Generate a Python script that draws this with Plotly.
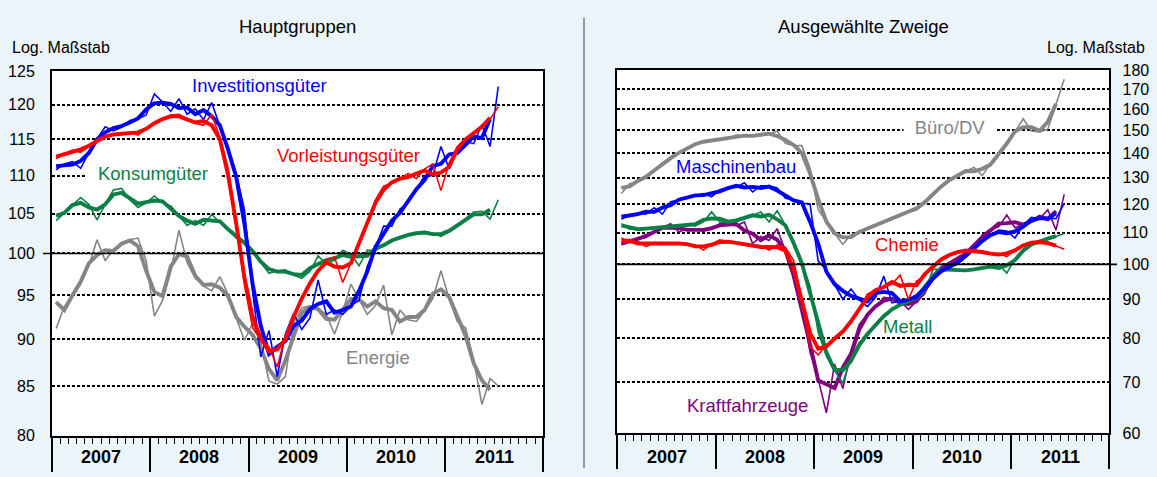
import math
import plotly.graph_objects as go

W, H = 1157, 477
FONT = "Arial, 'Liberation Sans', sans-serif"

# ---------------- categories ----------------
MONTHS = [f"{2007 + k // 12}-{k % 12 + 1:02d}" for k in range(55)]  # Jan 2007 .. Jul 2011
YEARS = ["2007", "2008", "2009", "2010", "2011"]
LEFT_TICKS = [80, 85, 90, 95, 100, 105, 110, 115, 120, 125]
RIGHT_TICKS = [60, 70, 80, 90, 100, 110, 120, 130, 140, 150, 160, 170, 180]

# ---------------- Hauptgruppen (monthly values and 3-month averages) ----------------
INV_M = [110.8, 111.6, 111.9, 111.0, 113.1, 115.1, 116.8, 116.2, 116.7, 117.7,
         117.9, 118.5, 121.6, 120.4, 119.0, 120.9, 118.6, 119.4, 117.8, 120.3,
         116.9, 113.7, 110.3, 105.5, 95.4, 88.1, 91.0, 86.0, 90.6, 92.9,
         91.1, 92.4, 96.8, 92.8, 93.3, 92.8, 93.8, 94.4, 98.4, 100.7,
         103.4, 103.4, 105.6, 106.4, 108.1, 110.0, 110.0, 114.0, 110.9, 113.8,
         114.7, 114.4, 117.1, 114.0, 122.7]
INV_T = [111.3, 111.4, 111.5, 112.0, 113.1, 115.0, 116.0, 116.6, 116.9, 117.4,
         118.0, 119.3, 120.2, 120.3, 120.1, 119.5, 119.6, 118.6, 119.2, 118.3,
         117.0, 113.6, 109.8, 103.7, 96.3, 91.5, 88.4, 89.2, 89.8, 91.5,
         92.1, 93.4, 94.0, 94.3, 93.0, 93.3, 93.7, 95.5, 97.8, 100.8,
         102.5, 104.1, 105.1, 106.7, 108.2, 109.4, 111.3, 111.6, 112.9, 113.1,
         114.3, 115.4, 115.2, 117.9]

VOR_M = [112.3, 113.0, 113.5, 113.2, 114.0, 115.0, 115.5, 115.7, 115.8, 116.0,
         115.6, 116.5, 117.4, 117.9, 118.5, 118.6, 117.9, 117.3, 117.0, 118.6,
         115.3, 111.1, 103.9, 96.2, 91.3, 89.9, 89.2, 87.0, 90.4, 92.6,
         94.6, 96.5, 98.0, 99.2, 99.6, 96.5, 98.8, 101.1, 103.9, 106.8,
         108.6, 109.0, 109.6, 110.3, 109.6, 110.9, 111.6, 108.0, 111.7, 114.0,
         115.1, 115.8, 116.7, 117.9, 119.7]
VOR_T = [112.6, 112.9, 113.2, 113.6, 114.1, 114.8, 115.4, 115.7, 115.8, 115.8,
         116.0, 116.5, 117.3, 117.9, 118.3, 118.3, 117.9, 117.4, 117.6, 117.0,
         115.0, 110.1, 103.7, 97.1, 92.5, 90.1, 88.7, 88.9, 90.0, 92.5,
         94.6, 96.4, 97.9, 98.9, 98.4, 98.3, 98.8, 101.3, 103.9, 106.4,
         108.1, 109.1, 109.6, 109.8, 110.3, 110.7, 110.2, 110.4, 111.2, 113.6,
         115.0, 115.9, 116.8, 118.1]

KON_M = [104.1, 105.1, 106.0, 107.1, 106.2, 104.2, 106.2, 108.1, 108.3, 106.8,
         105.8, 106.4, 107.3, 106.4, 106.0, 104.7, 103.5, 104.1, 103.5, 104.9,
         103.9, 103.1, 101.9, 101.5, 100.4, 98.9, 97.6, 97.9, 98.0, 97.4,
         97.0, 97.8, 99.7, 98.7, 99.2, 100.4, 99.9, 98.5, 100.4, 100.3,
         101.1, 101.7, 102.1, 102.3, 102.5, 102.7, 102.5, 102.1, 102.7, 103.5,
         104.3, 105.2, 105.3, 104.3, 106.8]
KON_T = [104.7, 105.1, 106.1, 106.4, 105.8, 105.5, 106.2, 107.5, 107.7, 107.0,
         106.3, 106.5, 106.7, 106.6, 105.7, 104.7, 104.1, 103.7, 104.2, 104.1,
         104.0, 103.0, 102.2, 101.3, 100.3, 99.0, 98.1, 97.8, 97.8, 97.5,
         97.4, 98.2, 98.7, 99.2, 99.4, 99.8, 99.6, 99.6, 99.7, 100.6,
         101.0, 101.6, 102.0, 102.3, 102.5, 102.6, 102.4, 102.4, 102.8, 103.5,
         104.3, 104.9, 104.9, 105.5]

ENE_M = [91.2, 93.7, 94.9, 96.3, 98.5, 101.7, 99.1, 100.5, 101.3, 101.7,
         101.9, 99.1, 92.6, 94.4, 97.8, 102.9, 98.9, 97.0, 96.1, 95.5,
         97.2, 95.1, 92.4, 89.9, 91.8, 89.7, 85.5, 85.2, 86.0, 91.8,
         93.5, 93.8, 93.5, 92.8, 90.6, 93.1, 96.3, 94.5, 92.8, 93.8,
         96.2, 90.5, 93.3, 92.2, 92.0, 93.2, 94.6, 97.9, 94.6, 92.0,
         91.3, 87.8, 83.1, 85.8, 85.0]
ENE_T = [94.2, 93.3, 95.0, 96.6, 98.8, 99.8, 100.4, 100.3, 101.2, 101.6,
         100.9, 97.9, 95.4, 94.9, 98.4, 99.9, 99.6, 97.3, 96.2, 96.3,
         95.9, 94.9, 92.5, 91.4, 90.5, 89.0, 86.8, 85.6, 87.7, 90.4,
         93.0, 93.6, 93.4, 92.3, 92.2, 93.3, 94.6, 94.5, 93.7, 94.3,
         93.5, 93.3, 92.0, 92.5, 92.5, 93.3, 95.2, 95.7, 94.8, 92.6,
         90.4, 87.4, 85.6, 84.6]

# ---------------- Ausgewählte Zweige ----------------
BUR_M = [123.9, 127.6, 128.4, 130.0, 132.5, 135.9, 137.9, 140.0, 142.4, 143.8,
         145.1, 145.8, 145.6, 146.3, 147.9, 147.4, 147.6, 147.6, 148.3, 149.7,
         144.2, 143.2, 143.2, 133.8, 118.0, 113.6, 109.8, 106.3, 109.3, 110.3,
         111.4, 112.6, 113.7, 115.0, 116.4, 117.2, 117.9, 120.4, 123.9, 126.8,
         129.2, 131.1, 132.5, 134.1, 130.8, 135.5, 139.3, 143.8, 149.3, 155.3,
         149.7, 149.3, 150.5, 161.9, 175.1]
BUR_T = [126.0, 126.6, 128.7, 130.3, 132.8, 135.4, 137.9, 140.1, 142.1, 143.8,
         144.9, 145.5, 145.9, 146.6, 147.2, 147.6, 147.5, 147.8, 148.5, 147.4,
         145.7, 143.5, 140.1, 131.7, 121.8, 113.8, 109.9, 108.5, 108.6, 110.3,
         111.4, 112.6, 113.8, 115.0, 116.2, 117.2, 118.5, 120.7, 123.7, 126.6,
         129.0, 130.9, 132.6, 132.5, 133.5, 135.2, 139.5, 144.1, 149.5, 151.4,
         151.4, 149.8, 153.9, 162.5]

MAS_M = [114.6, 116.1, 116.8, 116.4, 118.7, 116.4, 120.9, 121.5, 122.5, 123.3,
         123.9, 122.7, 125.3, 126.2, 126.2, 128.0, 124.5, 126.8, 126.8, 126.0,
         122.1, 121.5, 120.3, 120.1, 101.0, 98.3, 94.2, 90.0, 92.8, 89.8,
         88.0, 90.5, 96.5, 89.0, 89.5, 89.8, 90.2, 92.8, 96.0, 98.5,
         99.2, 100.2, 102.2, 105.3, 107.3, 109.3, 110.9, 110.6, 108.3, 112.6,
         115.3, 114.8, 115.0, 114.8, 120.3]
MAS_T = [115.5, 115.8, 116.4, 117.3, 117.2, 118.7, 119.6, 121.6, 122.4, 123.2,
         123.3, 124.0, 124.7, 125.9, 126.8, 126.2, 126.4, 126.0, 126.5, 125.0,
         123.2, 121.3, 120.6, 113.8, 106.5, 97.8, 94.2, 92.3, 90.9, 90.2,
         89.4, 91.7, 92.0, 91.7, 89.4, 89.8, 90.9, 93.0, 95.8, 97.9,
         99.3, 100.5, 102.6, 104.9, 107.3, 109.2, 110.3, 109.9, 110.5, 112.1,
         114.2, 115.0, 114.9, 116.7]

MET_M = [113.1, 111.2, 111.1, 111.4, 111.7, 112.0, 112.3, 112.6, 112.8, 112.3,
         113.7, 117.2, 113.7, 113.4, 114.2, 115.0, 115.9, 117.2, 113.7, 117.6,
         112.6, 107.3, 100.2, 93.7, 81.4, 75.8, 72.5, 69.8, 75.4, 79.0,
         80.5, 83.5, 85.8, 87.3, 88.7, 89.5, 90.0, 92.0, 98.5, 98.5,
         98.5, 98.1, 98.1, 98.5, 98.8, 99.2, 100.0, 97.4, 101.7, 104.7,
         106.3, 107.5, 108.1, 108.8, 109.8]
MET_T = [112.5, 111.8, 111.2, 111.4, 111.7, 112.0, 112.3, 112.6, 112.6, 112.9,
         114.4, 114.9, 114.8, 113.8, 114.2, 115.0, 116.0, 115.6, 116.2, 114.6,
         112.5, 106.7, 100.4, 91.8, 83.6, 76.6, 72.7, 72.6, 74.7, 78.3,
         81.0, 83.3, 85.5, 87.3, 88.5, 89.4, 90.5, 93.5, 96.3, 98.5,
         98.4, 98.2, 98.2, 98.5, 98.8, 99.3, 98.9, 99.7, 101.3, 104.2,
         106.2, 107.3, 108.1, 108.9]

CHE_M = [108.3, 106.8, 107.1, 105.5, 106.8, 106.8, 106.6, 106.5, 106.3, 106.1,
         104.4, 106.3, 107.7, 107.1, 106.6, 106.3, 106.1, 105.8, 104.4, 106.1,
         105.3, 101.2, 90.0, 78.0, 76.0, 78.5, 79.5, 81.6, 83.7, 87.3,
         91.4, 92.7, 93.4, 94.2, 96.8, 90.0, 95.1, 96.5, 99.7, 101.6,
         103.2, 104.0, 104.2, 104.7, 103.4, 103.2, 103.4, 102.4, 104.4, 106.1,
         107.1, 107.1, 106.8, 105.8, 104.7]
CHE_T = [107.5, 107.4, 106.5, 106.5, 106.4, 106.7, 106.6, 106.5, 106.3, 105.6,
         105.6, 106.1, 107.0, 107.1, 106.7, 106.3, 106.1, 105.4, 105.4, 105.3,
         104.2, 98.8, 89.7, 81.3, 77.5, 78.0, 79.9, 81.6, 84.2, 87.5,
         90.5, 92.5, 93.4, 94.8, 93.7, 94.0, 93.9, 97.1, 99.3, 101.5,
         102.9, 103.8, 104.3, 104.1, 103.8, 103.3, 103.0, 103.4, 104.3, 105.9,
         106.8, 107.0, 106.6, 105.8]

KFZ_M = [106.1, 107.3, 108.3, 108.5, 110.3, 111.7, 113.1, 110.3, 111.4, 111.2,
         110.6, 111.2, 113.1, 113.1, 112.3, 113.7, 106.5, 108.8, 107.5, 111.4,
         104.2, 97.4, 88.4, 76.7, 70.7, 63.8, 74.0, 68.7, 76.9, 83.4,
         85.9, 88.0, 90.5, 90.2, 89.5, 87.3, 89.4, 91.5, 97.0, 99.2,
         100.2, 101.4, 103.2, 105.3, 109.3, 111.2, 112.0, 116.1, 111.7, 113.1,
         113.7, 114.8, 118.0, 110.9, 123.6]
KFZ_T = [106.5, 107.2, 108.0, 109.0, 110.2, 111.7, 111.7, 111.6, 111.0, 111.1,
         111.0, 111.6, 112.5, 112.8, 113.0, 110.8, 109.7, 107.6, 109.2, 107.7,
         104.3, 96.7, 87.5, 78.6, 70.4, 69.5, 68.8, 73.2, 76.3, 82.1,
         85.8, 88.1, 89.6, 90.1, 89.0, 88.7, 89.4, 92.6, 95.9, 98.8,
         100.3, 101.6, 103.3, 105.9, 108.6, 110.8, 113.1, 113.3, 113.6, 112.8,
         113.9, 115.5, 114.6, 117.5]

# ---------------- styles ----------------
BLUE, RED, GREEN, GRAY, PURPLE = "#0000FF", "#FF0000", "#0B7F45", "#858585", "#800080"
THIN, THICK = 1.6, 3.9

# plot-area pixel geometry
L_X0, L_X1, L_Y0, L_Y1 = 52.0, 543.3, 65.7, 443.3
R_X0, R_X1, R_Y0, R_Y1 = 617.3, 1109.3, 64.3, 441.0


def px(p):
    return p / W


def py(p):
    return 1 - p / H


XS = list(range(len(MONTHS)))

fig = go.Figure()

left = [(ENE_M, ENE_T, GRAY), (KON_M, KON_T, GREEN), (INV_M, INV_T, BLUE), (VOR_M, VOR_T, RED)]
right = [(BUR_M, BUR_T, GRAY), (KFZ_M, KFZ_T, PURPLE), (MET_M, MET_T, GREEN), (MAS_M, MAS_T, BLUE), (CHE_M, CHE_T, RED)]

for series, xa, ya in ((left, "x", "y"), (right, "x2", "y2")):
    for m, t, c in series:
        fig.add_trace(go.Scatter(x=XS[:len(m)], y=m, mode="lines", line=dict(color=c, width=THIN),
                                 xaxis=xa, yaxis=ya, showlegend=False, hoverinfo="skip"))
        fig.add_trace(go.Scatter(x=XS[:len(t)], y=t, mode="lines", line=dict(color=c, width=THICK),
                                 xaxis=xa, yaxis=ya, showlegend=False, hoverinfo="skip"))

year_bounds = [-0.5 + 12 * k for k in range(len(YEARS) + 1)]


def xaxis_cfg(x0, x1, anchor):
    return dict(domain=[px(x0), px(x1)], anchor=anchor, range=[-0.5, 59.5],
                showgrid=False, zeroline=False, showline=True, mirror=True,
                linecolor="black", linewidth=2,
                tickmode="array", tickvals=year_bounds, ticks="outside", ticklen=34,
                tickwidth=1.5, tickcolor="black", showticklabels=False,
                minor=dict(tick0=-0.5, dtick=1, ticks="outside", ticklen=6,
                           tickwidth=1, tickcolor="black", showgrid=False))


def yaxis_cfg(y0, y1, anchor, lo, hi, ticks, side, standoff):
    return dict(domain=[py(y1), py(y0)], anchor=anchor, side=side, type="log",
                range=[math.log10(lo), math.log10(hi)],
                tickmode="array", tickvals=ticks, ticktext=[str(v) for v in ticks],
                showgrid=True, gridcolor="black", griddash="3px,2px", gridwidth=1.6,
                zeroline=False, showline=True, mirror=True, linecolor="black", linewidth=2,
                ticks="outside", ticklen=standoff, tickcolor="rgba(0,0,0,0)",
                tickfont=dict(size=16, color="black", family=FONT))


annotations = []


def label(text, x, y, color="black", size=18.5, bg=None, width=None, xanchor="center"):
    a = dict(text=text, x=px(x), y=py(y), xref="paper", yref="paper",
             showarrow=False, xanchor=xanchor, yanchor="middle",
             font=dict(family=FONT, size=size, color=color))
    if bg:
        a["bgcolor"] = bg
        a["borderpad"] = 0
    if width:
        a["width"] = width
    annotations.append(a)


# panel titles
label("Hauptgruppen", 297, 19)
label("Ausgewählte Zweige", 863, 19)
label("Log. Maßstab", 10, 41, size=16, xanchor="left")
label("Log. Maßstab", 1147, 41, size=16, xanchor="right")

# years
for k, yr in enumerate(YEARS):
    for xr in ("x", "x2"):
        annotations.append(dict(text=f"<b>{yr}</b>", x=5.5 + 12 * k, xref=xr, y=py(466), yref="paper",
                                showarrow=False, xanchor="center", yanchor="middle",
                                font=dict(family=FONT, size=18, color="black")))

# series labels
label("Investitionsgüter", 259, 80, BLUE)
label("Vorleistungsgüter", 348, 153, RED)
label("Konsumgüter", 153, 172, GREEN, bg="white", width=134)
label("Energie", 378, 362, GRAY)
label("Büro/DV", 950, 124, GRAY, bg="white", width=92)
label("Maschinenbau", 736, 164, BLUE)
label("Chemie", 907, 245, RED)
label("Metall", 907, 330, GREEN)
label("Kraftfahrzeuge", 747, 412, PURPLE)

shapes = [
    dict(type="line", xref="paper", yref="y", x0=px(43), x1=px(L_X1), y0=100, y1=100,
         line=dict(color="black", width=1.6)),
    dict(type="line", xref="paper", yref="y2", x0=px(R_X0), x1=px(1117), y0=100, y1=100,
         line=dict(color="black", width=1.6)),
    dict(type="line", xref="paper", yref="paper", x0=px(584), x1=px(584), y0=0, y1=py(10),
         line=dict(color="#7A7A7A", width=1.5)),
]

fig.update_layout(
    width=W, height=H, margin=dict(l=0, r=0, t=0, b=0),
    paper_bgcolor="#EBF4F8", plot_bgcolor="white",
    font=dict(family=FONT, color="black"),
    xaxis=xaxis_cfg(L_X0, L_X1, "y"),
    yaxis=yaxis_cfg(L_Y0, L_Y1, "x", 80, 125, LEFT_TICKS, "left", 12),
    xaxis2=xaxis_cfg(R_X0, R_X1, "y2"),
    yaxis2=yaxis_cfg(R_Y0, R_Y1, "x2", 60, 180, RIGHT_TICKS, "right", 8),
    annotations=annotations, shapes=shapes, showlegend=False,
)

fig.write_html("out.html", config={"displayModeBar": False},
               post_script="document.body.style.margin='0px';document.body.style.overflow='hidden';")
